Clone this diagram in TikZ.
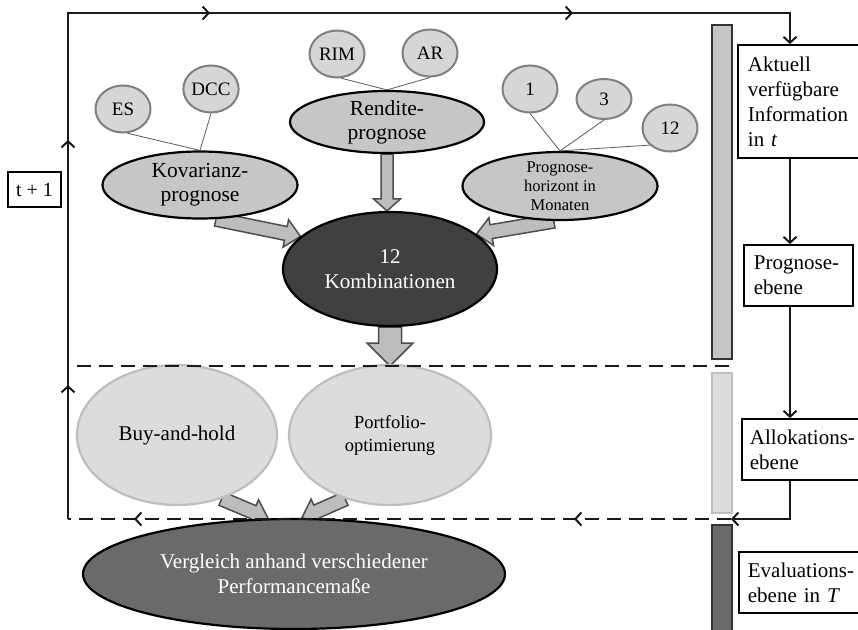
\documentclass[tikz,border=0pt]{standalone}
\usepackage{fontspec}
\setmainfont{Liberation Serif}
\usetikzlibrary{shapes.geometric,calc,arrows.meta,decorations.markings}
\pgfdeclarelayer{bg}
\pgfsetlayers{bg,main}
\definecolor{midgray}{HTML}{C6C6C6}
\definecolor{smallgray}{HTML}{D6D6D6}
\definecolor{smallborder}{HTML}{7F7F7F}
\definecolor{darkfill}{HTML}{404040}
\definecolor{lightfill}{HTML}{DCDCDE}
\definecolor{lightborder}{HTML}{BEBEBE}
\definecolor{evalfill}{HTML}{6A6A6A}
\definecolor{arrowfill}{HTML}{BDBDBD}
\definecolor{arrowborder}{HTML}{4D4D4D}
\tikzset{
  bigell/.style={ellipse, draw=black, line width=2.2pt, fill=midgray, inner sep=0pt, inner ysep=-6pt, align=center, font=\fontsize{21.5}{24}\selectfont},
  smallell/.style={ellipse, draw=smallborder, line width=2pt, fill=smallgray, inner sep=0pt, minimum width=55pt, minimum height=47pt, font=\fontsize{19}{22}\selectfont},
  lbox/.style={draw=black, line width=1.8pt, fill=white, anchor=west, align=left, inner xsep=10pt, inner ysep=0pt, font=\fontsize{21}{25}\selectfont},
  thinline/.style={draw=black!65, line width=0.8pt},
  blockarrow/.style={draw=arrowborder, fill=arrowfill, line width=1.5pt, line join=miter},
  flow/.style={draw=black!90, line width=2.2pt},
  dashedline/.style={draw=black!90, line width=2.2pt, dash pattern=on 14pt off 8pt},
  barbox/.style={line width=1.8pt, minimum width=20pt, inner sep=0pt}
}
% #1 from, #2 to, #3 shaft half width, #4 head half width, #5 head length
\newcommand\blockarr[5]{%
  \coordinate (bah) at ($(#2)!#5!(#1)$);
  \draw[blockarrow] ($(#1)!#3!90:(#2)$) -- ($(bah)!#3!90:(#2)$) -- ($(bah)!#4!90:(#2)$) -- (#2)
    -- ($(bah)!#4!-90:(#2)$) -- ($(bah)!#3!-90:(#2)$) -- ($(#1)!#3!-90:(#2)$) -- cycle;
}
\begin{document}
\begin{tikzpicture}[x=1pt,y=-1pt,>={Straight Barb[length=6pt,width=13pt,line width=2pt]}]
\useasboundingbox (0,0) rectangle (858,629);
\clip (0,0) rectangle (858,629);

% layer bars
\node[barbox, draw=black!80, fill=midgray, minimum height=334pt] (bar1) at (722,192) {};
\node[barbox, draw=lightborder, fill=lightfill, minimum height=140pt] (bar2) at (722,443) {};
\node[barbox, draw=black!80, fill=evalfill, minimum height=120pt] (bar3) at (722,585) {};

% level boxes
\node[lbox, minimum width=135pt, minimum height=113pt, text width=115pt] (aktuell) at (737,101.5) {Aktuell\\verfügbare\\Information\\in \textit{t}};
\node[lbox, minimum width=109pt, minimum height=61pt, text width=89pt] (prog) at (743,275.5) {Prognose-\\ebene};
\node[lbox, inner xsep=8pt, minimum width=130pt, minimum height=61pt, text width=114pt] (alloc) at (741,449.5) {Allokations-\\ebene};
\node[lbox, inner xsep=9pt, minimum width=130pt, minimum height=61pt, text width=112pt] (eval) at (738,582.5) {Evaluations-\\ebene in \textit{T}};

\node[draw=black, line width=1.8pt, minimum width=53pt, minimum height=35pt, inner sep=0pt, font=\fontsize{20}{24}\selectfont] (tplus) at (34.5,189.5) {t + 1};

% small circles
\node[smallell] (es) at (123,109) {ES};
\node[smallell] (dcc) at (211,89) {DCC};
\node[smallell] (rim) at (337,54) {RIM};
\node[smallell] (ar) at (430,53) {AR};
\node[smallell] (c1) at (530,89) {1};
\node[smallell, minimum height=40pt] (c3) at (604,99) {3};
\node[smallell] (c12) at (670,128) {12};

% forecast ellipses
\node[bigell, minimum width=195pt, minimum height=67pt] (kov) at (200,185) {Kovarianz-\\prognose};
\node[bigell, minimum width=194pt, minimum height=62pt] (rend) at (387,122) {Rendite-\\prognose};
\node[bigell, minimum width=195pt, minimum height=68pt, inner ysep=-14pt, font=\fontsize{16.5}{19}\selectfont] (phz) at (560,186) {Prognose-\\horizont in\\Monaten};
\node[bigell, fill=darkfill, text=white, minimum width=214pt, minimum height=114pt, font=\fontsize{21}{25}\selectfont] (komb) at (390,269) {12\\Kombinationen};

% allocation ellipses
\node[bigell, draw=lightborder, fill=lightfill, minimum width=200pt, minimum height=140pt, font=\fontsize{21}{25}\selectfont] (buy) at (177,435) {Buy-and-hold};
\node[bigell, draw=lightborder, fill=lightfill, minimum width=202pt, minimum height=140pt, font=\fontsize{18.5}{23}\selectfont] (port) at (390,435) {Portfolio-\\optimierung};

% evaluation ellipse
\node[bigell, fill=evalfill, text=white, minimum width=422pt, minimum height=110pt, font=\fontsize{21}{25}\selectfont] (vgl) at (294,574) {Vergleich anhand verschiedener\\Performancemaße};

% thin lines
\draw[thinline] (es.-80) -- (kov.north);
\draw[thinline] (dcc.south) -- (kov.north);
\draw[thinline] (rim.-80) -- (rend.north);
\draw[thinline] (ar.south) -- (rend.north);
\draw[thinline] (c1.south) -- (phz.north);
\draw[thinline] (c3.south) -- (phz.north);
\draw[thinline] (c12.-140) -- (phz.north);

% coordinates of the loop
\coordinate (tl) at (68,13);
\coordinate (tr) at (790,13);
\coordinate (bl) at (68,519);
\coordinate (dr) at (731,519);
\coordinate (ul) at (77,366);
\coordinate (ur) at (731,366);

% block arrows (behind)
\begin{pgfonlayer}{bg}
\blockarr{rend.south}{rend.south |- komb.north}{6pt}{13.5pt}{12pt}
\blockarr{kov.-65}{komb.160}{7pt}{14pt}{15pt}
\blockarr{phz.-100}{komb.22}{7pt}{14pt}{15pt}
\blockarr{komb.south}{komb.south |- ul}{11.5pt}{23pt}{23pt}
\blockarr{buy.-55}{vgl.115}{7pt}{13.5pt}{16pt}
\blockarr{port.-125}{vgl.82}{7pt}{13.5pt}{16pt}
\end{pgfonlayer}

% level separators
\draw[dashedline] (ul) -- (ur);

% process loop
\draw[flow, ->] (tr |- aktuell.south) -- (tr |- prog.north);
\draw[flow, ->] (tr |- prog.south) -- (tr |- alloc.north);
\draw[flow, ->] (tr |- alloc.south) -- (tr |- bl) -- (dr);
\draw[dashedline, postaction={decorate, decoration={markings,
    mark=at position 157pt with {\arrow{>}},
    mark=at position 597pt with {\arrow{>}}}}] (dr) -- (bl);
\draw[flow, ->, postaction={decorate, decoration={markings,
    mark=at position 134pt with {\arrow{>}},
    mark=at position 379pt with {\arrow{>}},
    mark=at position 648pt with {\arrow{>}},
    mark=at position 1011pt with {\arrow{>}}}}] (bl) -- (tl) -- (tr) -- (tr |- aktuell.north);
\end{tikzpicture}
\end{document}
